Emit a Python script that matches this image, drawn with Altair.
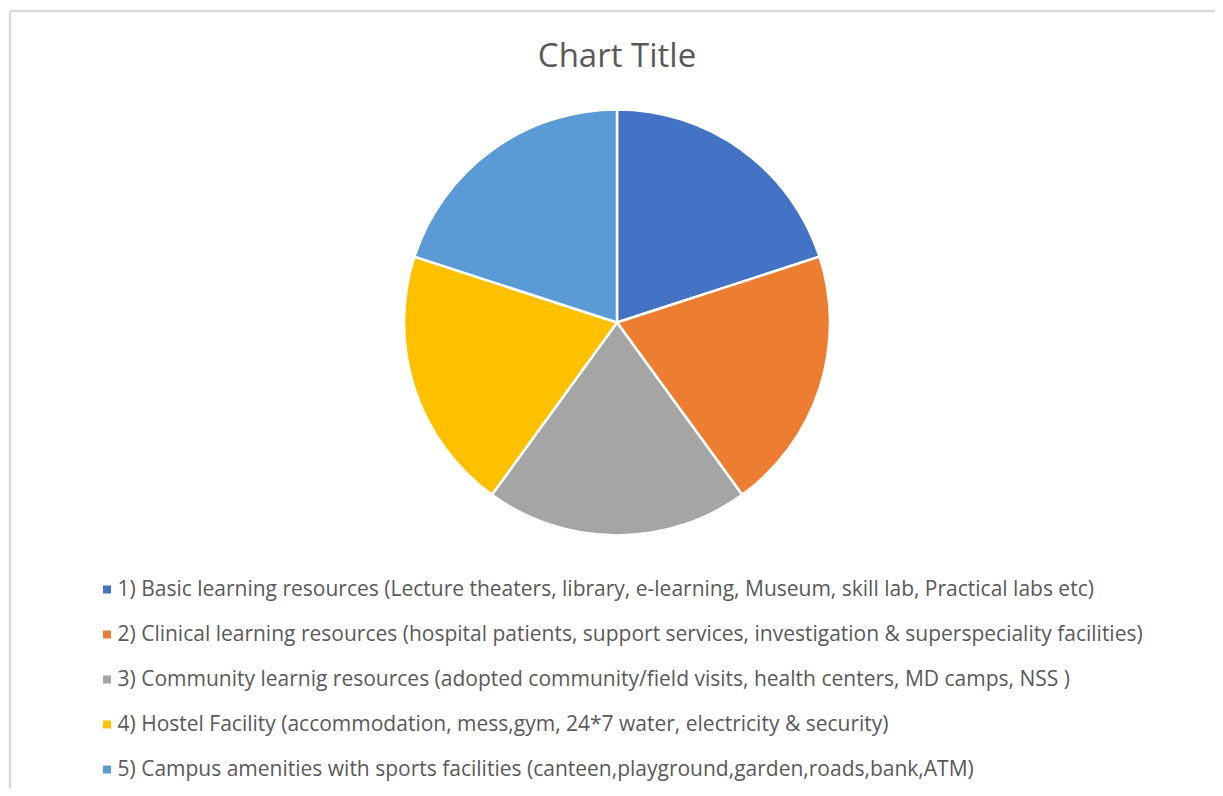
import altair as alt
import pandas as pd

categories = [
    "1) Basic learning resources (Lecture theaters, library, e-learning, Museum, skill lab, Practical labs etc)",
    "2) Clinical learning resources (hospital patients, support services, investigation & superspeciality facilities)",
    "3) Community learnig resources (adopted community/field visits, health centers, MD camps, NSS )",
    "4) Hostel Facility (accommodation, mess,gym, 24*7 water, electricity & security)",
    "5) Campus amenities with sports facilities (canteen,playground,garden,roads,bank,ATM)",
]
values = [1, 1, 1, 1, 1]
colors = ["#4472C4", "#ED7D31", "#A5A5A5", "#FFC000", "#5B9BD5"]
title_text = ["Chart Title"]

df = pd.DataFrame({"category": categories, "value": values})
tdf = pd.DataFrame({"t": title_text})

pie = alt.Chart(df).mark_arc(outerRadius=213, stroke="white", strokeWidth=2.5).encode(
    theta=alt.Theta("value:Q", stack=True),
    color=alt.Color(
        "category:N",
        scale=alt.Scale(domain=categories, range=colors),
        legend=alt.Legend(
            title=None,
            orient="none",
            legendX=88.5,
            legendY=571,
            symbolType="square",
            symbolSize=64,
            symbolStrokeWidth=0,
            labelFontSize=21,
            labelFont="Open Sans",
            labelColor="#595959",
            labelLimit=3000,
            labelOffset=0,
            rowPadding=23.0,
        ),
    ),
    order=alt.Order("category:N"),
    x=alt.value(609),
    y=alt.value(314.5),
)

title = alt.Chart(tdf).mark_text(
    font="Open Sans", fontSize=33, color="#595959", baseline="alphabetic", align="center"
).encode(text="t:N", x=alt.value(609), y=alt.value(59))

border_top = alt.Chart(tdf).mark_rule(color="#D9D9D9", strokeWidth=2.5).encode(
    x=alt.value(2), x2=alt.value(1207), y=alt.value(3)
)
border_left = alt.Chart(tdf).mark_rule(color="#D9D9D9", strokeWidth=2.5).encode(
    x=alt.value(2), y=alt.value(3), y2=alt.value(780)
)

chart = alt.layer(border_top, border_left, pie, title).properties(
    width=1207, height=780, padding=0,
    autosize=alt.AutoSizeParams(type="none"),
).configure_view(stroke=None)

chart.save("out.html", embed_options={"renderer": "svg", "actions": False})
